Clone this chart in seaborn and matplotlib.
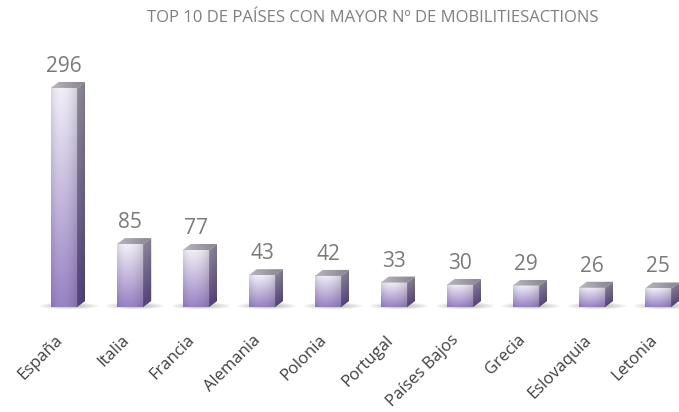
import numpy as np
import matplotlib
matplotlib.use("Agg")
import matplotlib.pyplot as plt
import seaborn as sns
from matplotlib.patches import Polygon, Ellipse
from matplotlib.colors import to_rgb
from matplotlib.transforms import ScaledTranslation

countries = ["España", "Italia", "Francia", "Alemania", "Polonia", "Portugal",
             "Países Bajos", "Grecia", "Eslovaquia", "Letonia"]
mobilities = [296, 85, 77, 43, 42, 33, 30, 29, 26, 25]
title = "TOP 10 DE PAÍSES CON MAYOR Nº DE MOBILITIESACTIONS"

sns.set_style("white")
plt.rcParams["font.family"] = ["Open Sans", "DejaVu Sans"]

W, H = 679, 412
fig = plt.figure(figsize=(W / 100, H / 100), dpi=100)
ax = fig.add_axes([0, 105 / H, 1, 307 / H])

sns.barplot(x=countries, y=mobilities, color="#a08cc8", saturation=1,
            width=0.4, ax=ax)

# scale of the plot: 66 px per category, 0.74 px per unit
px_x, px_y = 66.0, 0.74
xlim = (-64 / px_x, (W - 64) / px_x)
ylim = (0, 307 / px_y)

# 3d depth in pixels -> data
dx = 8 / px_x
dy = 6 / px_y


def vgrad(top, bottom, n=80, m=40, hl=0.35, left_dark=0.10, right_dark=0.16):
    t = np.linspace(0, 1, n)[:, None, None]
    c = (1 - t) * np.array(to_rgb(top)) + t * np.array(to_rgb(bottom))
    x = np.linspace(0, 1, m)
    f = np.where(x < hl, 1 - left_dark * ((hl - x) / hl) ** 2,
                 1 - right_dark * ((x - hl) / (1 - hl)) ** 2)
    img = c * f[None, :, None]
    return np.clip(img, 0, 1)


def hgrad(left, right, n=10, m=40):
    s = np.linspace(0, 1, m)[None, :, None]
    c = (1 - s) * np.array(to_rgb(left)) + s * np.array(to_rgb(right))
    return np.repeat(c, n, axis=0)


for p in ax.patches:
    x0 = p.get_x()
    w = p.get_width()
    h = p.get_height()
    x1 = x0 + w
    p.set_visible(False)

    # shadow on the floor
    for k in range(7):
        s = 1 - k * 0.12
        e = Ellipse((x0 + w / 2 + dx * 0.6, 1.5), (w + 2 * dx + 0.25) * s, 9 * s,
                    facecolor="#6a6a6a", edgecolor="none", alpha=0.07,
                    zorder=1, clip_on=False)
        ax.add_patch(e)

    # front face
    ax.imshow(vgrad("#f2eff8", "#9883c4"), extent=[x0, x1, 0, h],
              origin="upper", aspect="auto", zorder=3, interpolation="bilinear")

    # side face
    side = Polygon([(x1, 0), (x1 + dx, dy), (x1 + dx, h + dy), (x1, h)],
                   closed=True, facecolor="none", edgecolor="none")
    ax.add_patch(side)
    im = ax.imshow(vgrad("#8e8899", "#52407c", hl=0.0, left_dark=0, right_dark=0.1),
                   extent=[x1, x1 + dx, 0, h + dy], origin="upper",
                   aspect="auto", zorder=3, interpolation="bilinear")
    im.set_clip_path(side)

    # top face
    top = Polygon([(x0, h), (x1, h), (x1 + dx, h + dy), (x0 + dx, h + dy)],
                  closed=True, facecolor="none", edgecolor="none")
    ax.add_patch(top)
    im = ax.imshow(hgrad("#b9b6bf", "#86828e"), extent=[x0, x1 + dx, h, h + dy],
                   origin="upper", aspect="auto", zorder=3, interpolation="bilinear")
    im.set_clip_path(top)

    ax.annotate(f"{int(h)}", (x0 + w / 2, h + dy), xytext=(0, 10),
                textcoords="offset pixels", ha="center", va="baseline",
                fontsize=15, color="#7a7a7a")

ax.set_xlim(*xlim)
ax.set_ylim(*ylim)
ax.set_yticks([])
ax.set_xlabel("")
ax.set_ylabel("")
sns.despine(ax=ax, left=True, bottom=True)
ax.tick_params(axis="x", length=0, pad=18)
shift = ScaledTranslation(-9 / 100, 0, fig.dpi_scale_trans)
for lab in ax.get_xticklabels():
    lab.set_rotation(45)
    lab.set_ha("right")
    lab.set_rotation_mode("anchor")
    lab.set_fontsize(12)
    lab.set_color("#404040")
    lab.set_transform(lab.get_transform() + shift)

fig.text(373 / W, 1 - 18 / H, title, ha="center", va="center",
         fontsize=12, color="#7f7f7f")

fig.savefig("out.png", dpi=100, facecolor="white")
